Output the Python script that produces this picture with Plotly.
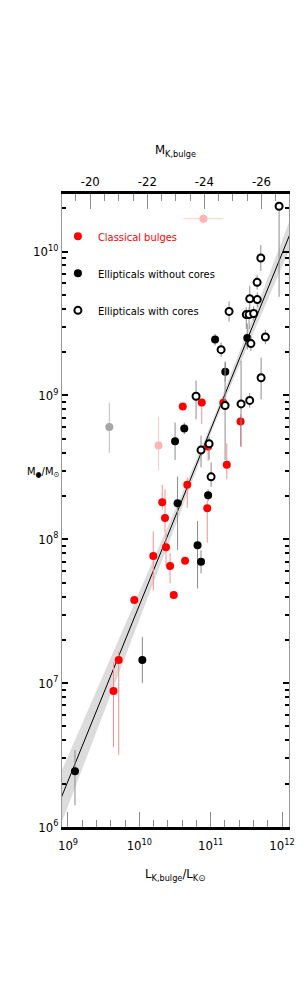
import numpy as np
import plotly.graph_objects as go

# ---------------- data (log10 values) ----------------
# Classical bulges
cb_logL = [10.609, 10.875, 11.177, 11.419, 11.226, 10.964, 10.672, 10.952, 10.321,
           10.360, 10.196, 10.374, 10.431, 10.641, 10.482, 9.930, 9.711, 9.638]
cb_logM = [8.923, 8.951, 8.949, 8.819, 8.518, 8.645, 8.379, 8.216, 8.257,
           8.147, 7.884, 7.944, 7.815, 7.850, 7.613, 7.578, 7.161, 6.945]
cb_up = [0.02, 0.03, 0.03, 0.05, 0.15, 0.05, 0.05, 0.05, 0.12,
         0.20, 0.17, 0.10, 0.09, 0.02, 0.02, 0.02, 0.06, 0.20]
cb_dn = [0.02, 0.15, 0.03, 0.17, 0.10, 0.10, 0.16, 0.24, 0.05,
         0.10, 0.24, 0.13, 0.12, 0.02, 0.02, 0.02, 0.66, 0.39]

# Ellipticals without cores
en_logL = [11.062, 11.513, 11.205, 10.630, 10.501, 10.964, 10.536, 10.816, 10.865, 10.042, 9.098]
en_logM = [9.388, 9.399, 9.165, 8.770, 8.681, 8.306, 8.251, 7.958, 7.843, 7.161, 6.388]
en_up = [0.04, 0.10, 0.07, 0.04, 0.13, 0.04, 0.185, 0.17, 0.08, 0.16, 0.146]
en_dn = [0.04, 0.08, 0.07, 0.04, 0.13, 0.04, 0.325, 0.30, 0.08, 0.16, 0.237]

# Ellipticals with cores
ec_logL = [11.959, 11.703, 11.651, 11.653, 11.548, 11.258, 11.499, 11.539, 11.603, 11.146,
           11.564, 11.767, 11.707, 10.795, 11.202, 11.426, 11.547, 10.865, 10.978, 11.006]
ec_logM = [10.315, 9.955, 9.786, 9.666, 9.672, 9.584, 9.562, 9.562, 9.569, 9.318,
           9.360, 9.406, 9.123, 8.994, 8.930, 8.941, 8.965, 8.620, 8.664, 8.434]
ec_up = [0.03, 0.09, 0.05, 0.05, 0.09, 0.07, 0.05, 0.05, 0.05, 0.05,
         0.05, 0.05, 0.14, 0.11, 0.30, 0.30, 0.05, 0.10, 0.05, 0.10]
ec_dn = [0.63, 0.09, 0.05, 0.05, 0.09, 0.07, 0.10, 0.10, 0.05, 0.05,
         0.05, 0.05, 0.15, 0.16, 0.38, 0.30, 0.05, 0.12, 0.11, 0.07]

# Excluded points (pink = classical bulges, gray = elliptical)
pk_logL = [10.898, 10.269]
pk_logM = [10.228, 8.651]
pk_up = [0.03, 0.20]
pk_dn = [0.03, 0.17]
pk_xerr = [0.28, 0.0]
gr_logL = [9.579]
gr_logM = [8.780]
gr_up = [0.17]
gr_dn = [0.18]

# Fit: log M = A + B (log L - X0), band from parameter uncertainties
FIT_A, FIT_B, FIT_X0 = 8.763, 1.222, 11.0
FIT_SA, FIT_SB = 0.03, 0.085
MSUN_K = 3.28

X_RANGE = [8.916, 12.098]
Y_RANGE = [6.0, 10.40]

x_major = [1e9, 1e10, 1e11, 1e12]
x_major_text = ["10<sup>9</sup>", "10<sup>10</sup>", "10<sup>11</sup>", "10<sup>12</sup>"]
y_major = [1e6, 1e7, 1e8, 1e9, 1e10]
y_major_text = ["10<sup>6</sup>", "10<sup>7</sup>", "10<sup>8</sup>", "10<sup>9</sup>", "10<sup>10</sup>"]
mag_major = [-20, -22, -24, -26]
mag_major_text = ["-20", "-22", "-24", "-26"]

FONT = "Liberation Sans Narrow, DejaVu Sans Condensed, Arial Narrow, Liberation Sans, sans-serif"


def to_lin(logv, up, dn):
    lv = np.array(logv, float)
    v = 10 ** lv
    return v, 10 ** (lv + np.array(up)) - v, v - 10 ** (lv - np.array(dn))


fig = go.Figure()

# band + fit line
xs = np.linspace(X_RANGE[0] - 0.05, X_RANGE[1] + 0.05, 200)
ym = FIT_A + FIT_B * (xs - FIT_X0)
sig = np.sqrt(FIT_SA ** 2 + (FIT_SB * (xs - FIT_X0)) ** 2)
fig.add_trace(go.Scatter(x=10 ** xs, y=10 ** (ym - sig), mode="lines", line=dict(width=0),
                         showlegend=False, hoverinfo="skip"))
fig.add_trace(go.Scatter(x=10 ** xs, y=10 ** (ym + sig), mode="lines", line=dict(width=0),
                         fill="tonexty", fillcolor="#dcdcdc", showlegend=False, hoverinfo="skip"))
fig.add_trace(go.Scatter(x=10 ** xs, y=10 ** ym, mode="lines", line=dict(color="black", width=1),
                         showlegend=False, hoverinfo="skip"))

# invisible traces so the magnitude axis (top) and mirrored right axis are drawn
cb_mag = MSUN_K - 2.5 * np.array(cb_logL)
fig.add_trace(go.Scatter(x=cb_mag, y=10 ** np.array(cb_logM), xaxis="x2", yaxis="y",
                         mode="markers", marker=dict(opacity=0), showlegend=False, hoverinfo="skip"))
fig.add_trace(go.Scatter(x=10 ** np.array(cb_logL), y=10 ** np.array(cb_logM), xaxis="x", yaxis="y2",
                         mode="markers", marker=dict(opacity=0), showlegend=False, hoverinfo="skip"))

MS = 8

# excluded gray
v, ep, em = to_lin(gr_logM, gr_up, gr_dn)
fig.add_trace(go.Scatter(x=10 ** np.array(gr_logL), y=v, mode="markers",
                         marker=dict(size=MS, color="#a6a6a6"),
                         error_y=dict(type="data", array=ep, arrayminus=em, color="#bdbdbd", thickness=1, width=0),
                         showlegend=False))
# excluded pink
v, ep, em = to_lin(pk_logM, pk_up, pk_dn)
xl, xp, xm = to_lin(pk_logL, pk_xerr, pk_xerr)
fig.add_trace(go.Scatter(x=xl, y=v, mode="markers",
                         marker=dict(size=MS, color="#ffb3b3"),
                         error_y=dict(type="data", array=ep, arrayminus=em, color="#ffcccc", thickness=1, width=0),
                         error_x=dict(type="data", array=xp, arrayminus=xm, color="#ffcccc", thickness=1, width=0),
                         showlegend=False))

# classical bulges
v, ep, em = to_lin(cb_logM, cb_up, cb_dn)
fig.add_trace(go.Scatter(x=10 ** np.array(cb_logL), y=v, mode="markers",
                         name="<span style='color:#ff0000'>Classical bulges</span>",
                         legendgroup="a",
                         marker=dict(size=MS, color="#ff0000"),
                         error_y=dict(type="data", array=ep, arrayminus=em, color="#ff8c8c", thickness=1, width=0)))
# ellipticals without cores
v, ep, em = to_lin(en_logM, en_up, en_dn)
fig.add_trace(go.Scatter(x=10 ** np.array(en_logL), y=v, mode="markers",
                         name="Ellipticals without cores", legendgroup="b",
                         marker=dict(size=MS, color="black"),
                         error_y=dict(type="data", array=ep, arrayminus=em, color="#8c8c8c", thickness=1, width=0)))
# ellipticals with cores
v, ep, em = to_lin(ec_logM, ec_up, ec_dn)
fig.add_trace(go.Scatter(x=10 ** np.array(ec_logL), y=v, mode="markers",
                         name="Ellipticals with cores", legendgroup="c",
                         marker=dict(size=MS - 1, color="white", line=dict(color="black", width=2)),
                         error_y=dict(type="data", array=ep, arrayminus=em, color="#8c8c8c", thickness=1, width=0)))

# minor tick positions
x_minor = [10 ** (d + f) for d in range(8, 13) for f in (0.2, 0.4, 0.6, 0.8)]
y_minor = [m * 10 ** d for d in range(5, 11) for m in range(2, 10)]

tickfont = dict(family=FONT, size=13, color="black")

fig.update_layout(
    width=298, height=998,
    margin=dict(l=54, r=17, t=186, b=179, pad=0, autoexpand=False),
    paper_bgcolor="white", plot_bgcolor="white",
    font=dict(family=FONT, size=12, color="black"),
    showlegend=True,
    legend=dict(x=-0.018, y=0.956, xanchor="left", yanchor="top", bgcolor="rgba(0,0,0,0)",
                font=dict(family=FONT, size=11, color="black"),
                traceorder="grouped", tracegroupgap=18, itemwidth=30),
    xaxis=dict(type="log", range=X_RANGE, tickvals=x_major, ticktext=x_major_text,
               ticks="inside", ticklen=15, tickwidth=1, tickcolor="#8c8c8c",
               minor=dict(tickvals=x_minor, ticks="inside", ticklen=7, tickwidth=1, tickcolor="#8c8c8c", showgrid=False),
               showline=True, linecolor="black", linewidth=2.5, mirror=False,
               showgrid=False, zeroline=False, tickfont=tickfont, automargin=False,
               ticklabelstandoff=5),
    xaxis2=dict(overlaying="x", side="top", anchor="y",
                range=[MSUN_K - 2.5 * X_RANGE[0], MSUN_K - 2.5 * X_RANGE[1]],
                tickvals=mag_major, ticktext=mag_major_text,
                ticks="inside", ticklen=15, tickwidth=1, tickcolor="#8c8c8c",
                minor=dict(dtick=0.5, tick0=0, ticks="inside", ticklen=7, tickwidth=1, tickcolor="#8c8c8c", showgrid=False),
                showline=True, linecolor="black", linewidth=2.5,
                showgrid=False, zeroline=False, tickfont=tickfont, automargin=False),
    yaxis=dict(type="log", range=Y_RANGE, tickvals=y_major, ticktext=y_major_text,
               ticks="inside", ticklen=6, tickwidth=2, tickcolor="black",
               minor=dict(tickvals=y_minor, ticks="inside", ticklen=4, tickwidth=2, tickcolor="black", showgrid=False),
               showline=True, linecolor="#9a9a9a", linewidth=1,
               showgrid=False, zeroline=False, tickfont=tickfont, automargin=False),
    yaxis2=dict(type="log", overlaying="y", side="right", anchor="x", range=Y_RANGE,
                tickvals=y_major, showticklabels=False,
                ticks="inside", ticklen=6, tickwidth=2, tickcolor="black",
                minor=dict(tickvals=y_minor, ticks="inside", ticklen=4, tickwidth=2, tickcolor="black", showgrid=False),
                showline=True, linecolor="#9a9a9a", linewidth=1,
                showgrid=False, zeroline=False, automargin=False),
)

fig.add_annotation(text="M<sub>●</sub>/M<sub>⊙</sub>", xref="paper", yref="paper",
                   x=-0.003, y=0.561, xanchor="right", showarrow=False, font=dict(family=FONT, size=11))
fig.add_annotation(text="L<sub>K,bulge</sub>/L<sub>K⊙</sub>", xref="paper", yref="paper",
                   x=0.498, y=-0.092, showarrow=False, font=dict(family=FONT, size=13))
fig.add_annotation(text="M<sub>K,bulge</sub>", xref="paper", yref="paper",
                   x=0.502, y=1.085, showarrow=False, font=dict(family=FONT, size=13))

fig.write_html("out.html")
